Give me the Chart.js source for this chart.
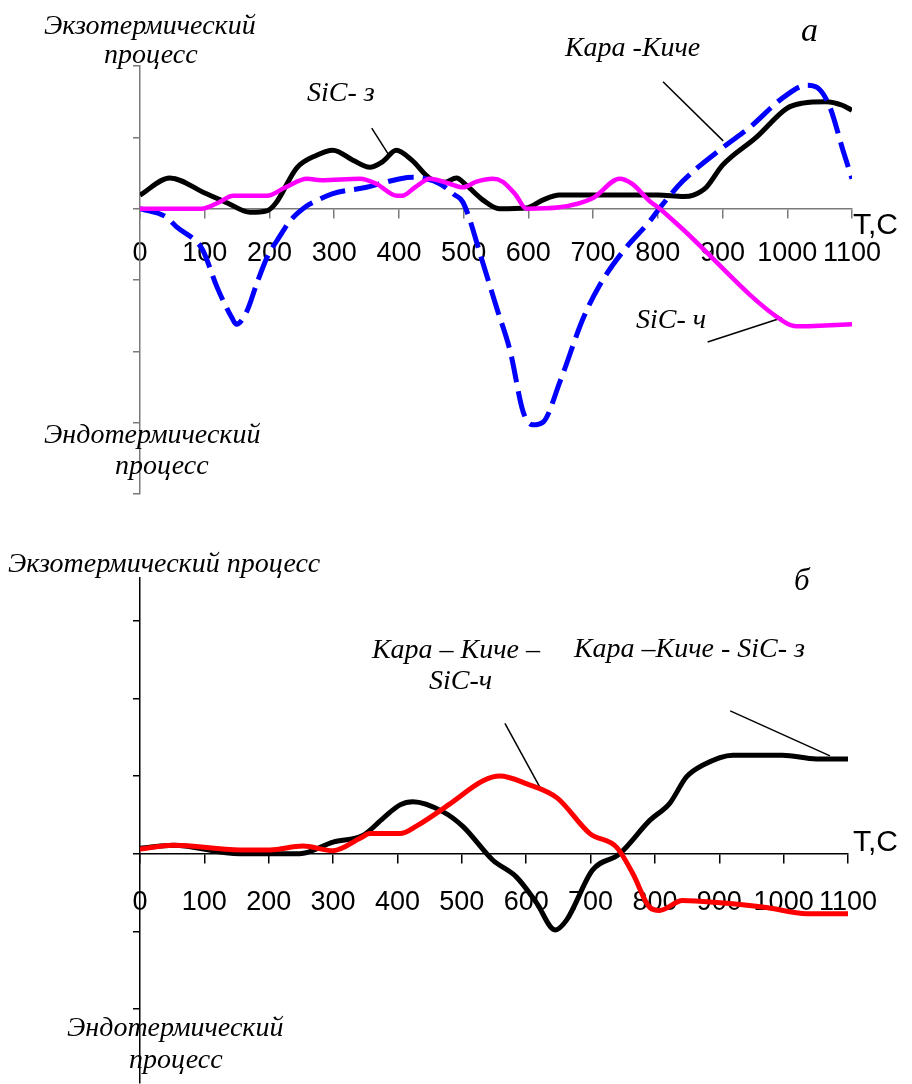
<!DOCTYPE html>
<html>
<head>
<meta charset="utf-8">
<script src="https://cdn.jsdelivr.net/npm/chart.js@4"></script>
<style>
  body { margin: 0; background: #fff; }
  #wrap { position: relative; width: 912px; height: 1084px; overflow: hidden; }
  canvas { position: absolute; left: 0; }
  .lbl { position: absolute; white-space: nowrap; line-height: 1; font-family: "Liberation Serif", "Times New Roman", serif; font-style: italic; color: #000; }
  .sans { font-family: "Liberation Sans", Arial, sans-serif; font-style: normal; }
</style>
</head>
<body>
<div id="wrap">
  <canvas id="chartA" width="912" height="510" style="top:0"></canvas>
  <canvas id="chartB" width="912" height="574" style="top:510px"></canvas>
</div>
<script>
// --- chart а ---
const sicZTemp = [0, 46, 100, 135, 170, 196, 210, 242, 273, 298, 329, 355, 375, 396, 420, 447, 470, 489, 504, 530, 555, 597, 622, 648, 700, 750, 800, 840, 855, 875, 900, 952, 1000, 1024, 1060, 1085, 1100]
const sicZVal  = [0.19, 0.43, 0.22, 0.08, -0.05, -0.03, 0.08, 0.57, 0.75, 0.82, 0.68, 0.58, 0.66, 0.82, 0.68, 0.43, 0.37, 0.43, 0.33, 0.12, 0.0, 0.01, 0.12, 0.19, 0.19, 0.19, 0.19, 0.17, 0.19, 0.3, 0.61, 1.0, 1.41, 1.48, 1.5, 1.45, 1.38]

const sicChTemp = [0, 95, 120, 144, 196, 225, 258, 280, 340, 365, 397, 405, 425, 448, 475, 499, 520, 545, 560, 580, 597, 648, 700, 741, 760, 788, 803, 834, 994, 1015, 1050, 1100]
const sicChVal  = [0, 0, 0.08, 0.18, 0.18, 0.3, 0.42, 0.4, 0.42, 0.35, 0.18, 0.18, 0.3, 0.42, 0.36, 0.3, 0.38, 0.42, 0.38, 0.2, 0.0, 0.02, 0.15, 0.42, 0.35, 0.1, 0.0, -0.25, -1.58, -1.65, -1.64, -1.62]

const karaTemp = [0, 41, 57, 88, 97, 119, 142, 149, 165, 180, 196, 215, 232, 258, 268, 298, 350, 402, 422, 463, 485, 499, 530, 551, 572, 592, 607, 623, 649, 685, 711, 747, 788, 803, 839, 901, 942, 994, 1030, 1046, 1066, 1086, 1100]
const karaVal  = [0, -0.12, -0.26, -0.47, -0.58, -1.1, -1.53, -1.62, -1.44, -1.06, -0.69, -0.4, -0.17, 0.04, 0.09, 0.21, 0.3, 0.42, 0.44, 0.35, 0.2, 0.09, -0.77, -1.39, -2.0, -2.85, -3.03, -2.99, -2.42, -1.53, -1.06, -0.59, -0.17, 0.01, 0.39, 0.86, 1.14, 1.56, 1.73, 1.7, 1.42, 0.82, 0.42]

// pointer lines (from label to curve), in data units
const ptrSicZ  = [[358, 1.13], [386, 0.73]]
const ptrKara  = [[808, 1.78], [901, 0.95]]
const ptrSicCh = [[877, -1.87], [992, -1.53]]

// --- chart б ---
const mixZTemp = [0, 52, 155, 248, 300, 347, 378, 404, 424, 471, 502, 548, 585, 616, 645, 663, 703, 745, 792, 823, 849, 874, 921, 998, 1051, 1100]
const mixZVal  = [0.07, 0.11, 0.0, 0.0, 0.15, 0.24, 0.46, 0.63, 0.67, 0.54, 0.35, -0.08, -0.3, -0.63, -0.98, -0.85, -0.21, 0.0, 0.43, 0.65, 0.99, 1.14, 1.27, 1.27, 1.22, 1.22]

const mixChTemp = [0, 52, 155, 202, 253, 300, 342, 357, 404, 430, 481, 533, 559, 601, 648, 699, 741, 766, 792, 807, 843, 901, 973, 1036, 1100]
const mixChVal  = [0.06, 0.11, 0.05, 0.05, 0.1, 0.04, 0.2, 0.26, 0.26, 0.36, 0.64, 0.94, 1.0, 0.9, 0.72, 0.26, 0.08, -0.26, -0.69, -0.73, -0.6, -0.63, -0.69, -0.77, -0.77]

const ptrMixCh = [[567, 1.68], [625, 0.80]]
const ptrMixZ  = [[917, 1.84], [1072, 1.26]]

const xTicks = [0, 100, 200, 300, 400, 500, 600, 700, 800, 900, 1000, 1100]

function pts(xs, ys) {
    return xs.map((x, i) => ({ x: x, y: ys[i] }))
}

function curve(xs, ys, color, width, dash) {
    return {
        data: pts(xs, ys),
        borderColor: color,
        borderWidth: width,
        borderDash: dash || [],
        pointRadius: 0,
        cubicInterpolationMode: 'monotone',
        fill: false
    }
}

function pointer(p) {
    return {
        data: p.map(q => ({ x: q[0], y: q[1] })),
        borderColor: '#000',
        borderWidth: 1.5,
        pointRadius: 0,
        tension: 0,
        fill: false
    }
}

function makeChart(id, datasets, yMin, yMax, pad, axisColor, labelPad) {
    const ctx = document.getElementById(id).getContext('2d')
    return new Chart(ctx, {
        type: 'line',
        data: { datasets: datasets },
        options: {
            responsive: false,
            animation: false,
            layout: { padding: pad },
            plugins: { legend: { display: false }, tooltip: { enabled: false } },
            scales: {
                x: {
                    type: 'linear',
                    min: 0,
                    max: 1100,
                    position: { y: 0 },
                    afterBuildTicks: s => { s.ticks = xTicks.map(v => ({ value: v })) },
                    grid: { drawOnChartArea: false, drawTicks: true, tickLength: 9, color: axisColor, lineWidth: 1.5 },
                    border: { display: true, color: axisColor, width: 1.5 },
                    ticks: {
                        color: '#000',
                        padding: labelPad,
                        maxRotation: 0,
                        autoSkip: false,
                        callback: v => String(v),
                        font: { family: 'Liberation Sans, Arial, sans-serif', size: 27 }
                    }
                },
                y: {
                    type: 'linear',
                    min: yMin,
                    max: yMax,
                    afterBuildTicks: s => { s.ticks = s.ticks.filter(t => Number.isInteger(t.value)) },
                    afterFit: s => { s.width = 10 },
                    grid: { drawOnChartArea: false, drawTicks: true, tickLength: 7, color: axisColor, lineWidth: 1.5 },
                    border: { display: true, color: axisColor, width: 1.5 },
                    ticks: { display: false, stepSize: 1 }
                }
            }
        }
    })
}

makeChart('chartA', [
    curve(sicChTemp, sicChVal, '#ff00ff', 4.5),
    curve(karaTemp, karaVal, '#0000ff', 5, [26, 9]),
    curve(sicZTemp, sicZVal, '#000000', 5),
    pointer(ptrSicZ), pointer(ptrKara), pointer(ptrSicCh)
], -4, 2, { left: 130, right: 60, top: 66, bottom: 16 }, '#7a7a7a', 20)

makeChart('chartB', [
    curve(mixChTemp, mixChVal, '#ff0000', 5),
    curve(mixZTemp, mixZVal, '#000000', 5),
    pointer(ptrMixCh), pointer(ptrMixZ)
], -2.95, 3.55, { left: 130, right: 64, top: 68, bottom: 1 }, '#000000', 24)

// text labels: [text, left, top, size, extra class]
const labels = [
    ['Экзотермический', 44, 11, 28],
    ['процесс', 104, 40, 28],
    ['SiC- з', 307, 78, 28],
    ['Кара -Киче', 565, 33, 28],
    ['а', 801, 13, 34],
    ['T,C', 853, 209, 30, 'sans'],
    ['SiC- ч', 636, 305, 28],
    ['Эндотермический', 44, 420, 28],
    ['процесс', 115, 451, 28],
    ['Экзотермический процесс', 8, 549, 28],
    ['б', 794, 564, 31],
    ['Кара – Киче –', 372, 635, 28],
    ['SiC-ч', 429, 666, 28],
    ['Кара –Киче - SiC- з', 574, 634, 28],
    ['T,C', 853, 826, 30, 'sans'],
    ['Эндотермический', 67, 1013, 28],
    ['процесс', 129, 1045, 28]
]

const wrap = document.getElementById('wrap')
labels.forEach(l => {
    const d = document.createElement('div')
    d.className = 'lbl' + (l[4] ? ' ' + l[4] : '')
    d.textContent = l[0]
    d.style.left = l[1] + 'px'
    d.style.top = l[2] + 'px'
    d.style.fontSize = l[3] + 'px'
    wrap.appendChild(d)
})
</script>
</body>
</html>
